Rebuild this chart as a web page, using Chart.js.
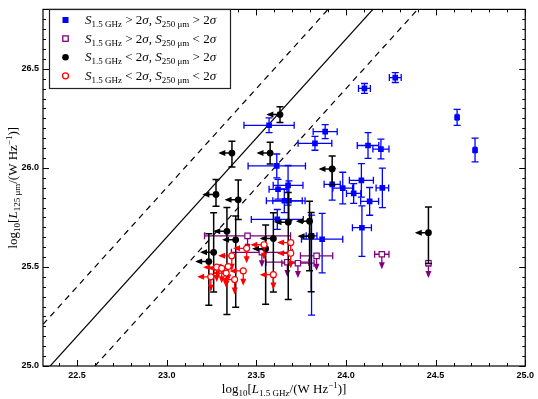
<!DOCTYPE html>
<html>
<head>
<meta charset="utf-8">
<script src="https://cdn.jsdelivr.net/npm/chart.js@4.4.1/dist/chart.umd.min.js"></script>
<style>
  html, body { margin: 0; padding: 0; background: #fff; }
  #wrap { width: 538px; height: 399px; }
</style>
</head>
<body>
<div id="wrap"><canvas id="c" width="538" height="399"></canvas></div>
<script>
// axis ranges and labelled ticks
const xRange = [22.31, 25.0];
const yRange = [25.0, 26.8];
const xTicks = [22.5, 23.0, 23.5, 24.0, 24.5, 25.0];
const yTicks = [25.0, 25.5, 26.0, 26.5];

// relation y = x + c : solid, upper dashed, lower dashed
const lineOffsets = [2.65, 2.90, 2.40];

// S1.4 > 2s, S250 > 2s  (blue squares)
const blueX = [24.275, 24.103, 24.62, 24.72, 23.884, 23.827, 24.123, 24.195, 23.571, 23.614, 23.923, 23.982,
               24.086, 24.043, 24.203, 24.132, 23.677, 23.621, 23.656, 23.682, 23.617, 23.867, 24.089, 23.808];
const blueY = [26.456, 26.401, 26.255, 26.09, 26.183, 26.124, 26.113, 26.095, 26.215, 26.01, 25.917, 25.898,
               25.937, 25.871, 25.899, 25.831, 25.912, 25.892, 25.834, 25.834, 25.74, 25.64, 25.698, 25.657];
const blueXerr = [0.033, 0.033, 0.006, 0.006, 0.067, 0.094, 0.06, 0.045, 0.14, 0.16, 0.045, 0.055,
                  0.067, 0.04, 0.035, 0.05, 0.083, 0.05, 0.1, 0.09, 0.145, 0.115, 0.053, 0.03];
const blueYerrHi = [0.025, 0.025, 0.04, 0.06, 0.035, 0.035, 0.065, 0.05, 0.037, 0.06, 0.08, 0.08,
                    0.085, 0.05, 0.1, 0.07, 0.1, 0.05, 0.06, 0.1, 0.05, 0.13, 0.11, 0.105];
const blueYerrLo = [0.025, 0.025, 0.04, 0.06, 0.035, 0.035, 0.065, 0.05, 0.037, 0.06, 0.08, 0.08,
                    0.085, 0.05, 0.1, 0.07, 0.1, 0.05, 0.06, 0.1, 0.05, 0.17, 0.145, 0.4];

// S1.4 > 2s, S250 < 2s  (purple open squares, upper limits in y)
const purpleX = [23.451, 23.531, 23.673, 23.732, 23.836, 24.2, 24.46];
const purpleY = [25.657, 25.574, 25.524, 25.519, 25.556, 25.564, 25.519];
const purpleXerr = [0.24, 0.17, 0.12, 0.09, 0.09, 0.04, 0.01];

// S1.4 < 2s, S250 > 2s  (black dots, upper limits in x)
const blackX = [23.632, 23.364, 23.577, 23.275, 23.399, 23.923, 24.46, 23.678, 23.797, 23.806, 23.595, 23.336,
                23.262, 23.235, 23.385, 23.552];
const blackY = [26.269, 26.075, 26.075, 25.866, 25.839, 25.995, 25.673, 25.726, 25.731, 25.655, 25.643, 25.68,
                25.574, 25.527, 25.637, 25.592];
const blackYerrHi = [0.04, 0.06, 0.055, 0.075, 0.1, 0.065, 0.13, 0.15, 0.1, 0.12, 0.13, 0.12, 0.2, 0.14, 0.12, 0.12];
const blackYerrLo = [0.04, 0.07, 0.055, 0.06, 0.1, 0.08, 0.155, 0.39, 0.25, 0.28, 0.27, 0.42, 0.2, 0.22, 0.34, 0.28];

// S1.4 < 2s, S250 < 2s  (red open circles, limits in both)
const redX = [23.543, 23.446, 23.363, 23.692, 23.692, 23.279, 23.343, 23.332, 23.246, 23.379, 23.427, 23.595, 23.307];
const redY = [25.612, 25.594, 25.556, 25.623, 25.569, 25.499, 25.502, 25.469, 25.45, 25.436, 25.48, 25.461, 25.493];

const ARROW_DX = 0.065;
const ARROW_DY = 0.065;
const SERIF = "'Liberation Serif', 'DejaVu Serif', serif";

const pts = (xs, ys) => xs.map((v, i) => ({ x: v, y: ys[i] }));

function fontFor(s, size) {
  const sz = (s.sub || s.sup) ? Math.round(size * 0.7) : size;
  return (s.it ? 'italic ' : '') + sz + 'px ' + SERIF;
}
function drawRich(ctx, segs, x, y, size, align) {
  let w = 0;
  segs.forEach(s => { ctx.font = fontFor(s, size); w += ctx.measureText(s.t).width; });
  let cx = align === 'center' ? x - w / 2 : x;
  ctx.textBaseline = 'alphabetic';
  ctx.textAlign = 'left';
  segs.forEach(s => {
    ctx.font = fontFor(s, size);
    const dy = s.sub ? size * 0.25 : s.sup ? -size * 0.42 : 0;
    ctx.fillText(s.t, cx, y + dy);
    cx += ctx.measureText(s.t).width;
  });
}

function arrow(ctx, x0, y0, x1, y1) {
  ctx.beginPath(); ctx.moveTo(x0, y0); ctx.lineTo(x1, y1); ctx.stroke();
  const a = Math.atan2(y1 - y0, x1 - x0), L = 5, H = 3;
  ctx.beginPath();
  ctx.moveTo(x1 + Math.cos(a) * 2, y1 + Math.sin(a) * 2);
  ctx.lineTo(x1 - Math.cos(a) * L - Math.sin(a) * H, y1 - Math.sin(a) * L + Math.cos(a) * H);
  ctx.lineTo(x1 - Math.cos(a) * L + Math.sin(a) * H, y1 - Math.sin(a) * L - Math.cos(a) * H);
  ctx.closePath(); ctx.fill();
}

// error bars and limit arrows, drawn just under each dataset's markers
const errorBars = {
  id: 'errorBars',
  beforeDatasetDraw(chart, args) {
    const ds = chart.data.datasets[args.index];
    const b = ds.bars;
    if (!b) return;
    const { ctx, chartArea: a, scales: { x, y } } = chart;
    ctx.save();
    ctx.beginPath(); ctx.rect(a.left, a.top, a.right - a.left, a.bottom - a.top); ctx.clip();
    ctx.strokeStyle = b.color; ctx.fillStyle = b.color; ctx.lineWidth = b.lw || 1.3;
    const cap = 3.5;
    ds.data.forEach((p, i) => {
      const px = x.getPixelForValue(p.x), py = y.getPixelForValue(p.y);
      if (b.xerr) {
        const l = x.getPixelForValue(p.x - b.xerr[i]), r = x.getPixelForValue(p.x + b.xerr[i]);
        ctx.beginPath();
        ctx.moveTo(l, py); ctx.lineTo(r, py);
        ctx.moveTo(l, py - cap); ctx.lineTo(l, py + cap);
        ctx.moveTo(r, py - cap); ctx.lineTo(r, py + cap);
        ctx.stroke();
      }
      if (b.yhi) {
        const t = y.getPixelForValue(p.y + b.yhi[i]), d = y.getPixelForValue(p.y - b.ylo[i]);
        ctx.beginPath();
        ctx.moveTo(px, t); ctx.lineTo(px, d);
        ctx.moveTo(px - cap, t); ctx.lineTo(px + cap, t);
        ctx.moveTo(px - cap, d); ctx.lineTo(px + cap, d);
        ctx.stroke();
      }
      if (b.left) arrow(ctx, px, py, x.getPixelForValue(p.x - ARROW_DX), py);
      if (b.down) arrow(ctx, px, py, px, y.getPixelForValue(p.y - ARROW_DY));
    });
    ctx.restore();
  }
};

// frame with inward ticks on all four sides, axis titles and legend
const frame = {
  id: 'frame',
  afterDraw(chart) {
    const { ctx, chartArea: a, scales: { x, y } } = chart;
    ctx.save();
    ctx.strokeStyle = '#000'; ctx.lineWidth = 1.2;
    ctx.strokeRect(a.left, a.top, a.right - a.left, a.bottom - a.top);
    ctx.lineWidth = 1;
    ctx.beginPath();
    for (let k = Math.ceil(xRange[0] * 10); k <= Math.floor(xRange[1] * 10); k++) {
      const px = Math.round(x.getPixelForValue(k / 10)) + 0.5, len = k % 5 === 0 ? 6 : 3;
      ctx.moveTo(px, a.bottom); ctx.lineTo(px, a.bottom - len);
      ctx.moveTo(px, a.top); ctx.lineTo(px, a.top + len);
    }
    for (let k = Math.ceil(yRange[0] * 20); k <= Math.floor(yRange[1] * 20); k++) {
      const py = Math.round(y.getPixelForValue(k / 20)) + 0.5, len = k % 10 === 0 ? 6 : 3;
      ctx.moveTo(a.left, py); ctx.lineTo(a.left + len, py);
      ctx.moveTo(a.right, py); ctx.lineTo(a.right - len, py);
    }
    ctx.stroke();

    // axis titles
    ctx.fillStyle = '#000';
    drawRich(ctx, [{ t: 'log' }, { t: '10', sub: 1 }, { t: '[' }, { t: 'L', it: 1 }, { t: '1.5 GHz', sub: 1 },
      { t: '/(W Hz' }, { t: '−1', sup: 1 }, { t: ')]' }], (a.left + a.right) / 2, 393, 13, 'center');
    ctx.save();
    ctx.translate(17, (a.top + a.bottom) / 2);
    ctx.rotate(-Math.PI / 2);
    drawRich(ctx, [{ t: 'log' }, { t: '10', sub: 1 }, { t: '[' }, { t: 'L', it: 1 }, { t: '125 μm', sub: 1 },
      { t: '/(W Hz' }, { t: '−1', sup: 1 }, { t: ')]' }], 0, 0, 13, 'center');
    ctx.restore();

    // legend
    const bx = 49.5, by = 9.5, bw = 181, bh = 79;
    ctx.fillStyle = '#fff'; ctx.fillRect(bx, by, bw, bh);
    ctx.strokeStyle = '#222'; ctx.lineWidth = 1.2; ctx.strokeRect(bx, by, bw, bh);
    const rows = [
      { kind: 'blue', gt1: ' > 2', gt2: ' > 2' },
      { kind: 'purple', gt1: ' > 2', gt2: ' < 2' },
      { kind: 'black', gt1: ' < 2', gt2: ' > 2' },
      { kind: 'red', gt1: ' < 2', gt2: ' < 2' }
    ];
    rows.forEach((r, i) => {
      const cy = 20 + i * 18.6, mx = 65.5;
      ctx.lineWidth = 1.3;
      if (r.kind === 'blue') { ctx.fillStyle = '#0000ff'; ctx.fillRect(mx - 3, cy - 3, 6, 6); }
      if (r.kind === 'purple') { ctx.strokeStyle = '#800080'; ctx.fillStyle = '#fff'; ctx.fillRect(mx - 2.7, cy - 2.7, 5.4, 5.4); ctx.strokeRect(mx - 2.7, cy - 2.7, 5.4, 5.4); }
      if (r.kind === 'black') { ctx.fillStyle = '#000'; ctx.beginPath(); ctx.arc(mx, cy, 3.3, 0, Math.PI * 2); ctx.fill(); }
      if (r.kind === 'red') { ctx.strokeStyle = '#ff0000'; ctx.fillStyle = '#fff'; ctx.beginPath(); ctx.arc(mx, cy, 3, 0, Math.PI * 2); ctx.fill(); ctx.stroke(); }
      ctx.fillStyle = '#000';
      drawRich(ctx, [{ t: 'S', it: 1 }, { t: '1.5 GHz', sub: 1 }, { t: r.gt1 }, { t: 'σ', it: 1 }, { t: ', ' },
        { t: 'S', it: 1 }, { t: '250 μm', sub: 1 }, { t: r.gt2 }, { t: 'σ', it: 1 }], 85, cy + 4, 13, 'left');
    });
    ctx.restore();
  }
};

const refLine = (c, dash) => ({
  type: 'line',
  data: [{ x: xRange[0], y: xRange[0] + c }, { x: xRange[1], y: xRange[1] + c }],
  borderColor: '#000', borderWidth: 1.2, borderDash: dash, pointRadius: 0, showLine: true, fill: false, order: 10
});

new Chart(document.getElementById('c'), {
  type: 'scatter',
  data: {
    datasets: [
      refLine(lineOffsets[0], []),
      refLine(lineOffsets[1], [6, 5]),
      refLine(lineOffsets[2], [6, 5]),
      {
        data: pts(blueX, blueY), order: 4,
        pointStyle: 'rect', pointRadius: 4, backgroundColor: '#0000ff', borderColor: '#0000ff', borderWidth: 0,
        bars: { color: '#0000ff', xerr: blueXerr, yhi: blueYerrHi, ylo: blueYerrLo }
      },
      {
        data: pts(purpleX, purpleY), order: 3,
        pointStyle: 'rect', pointRadius: 3.8, backgroundColor: '#fff', borderColor: '#800080', borderWidth: 1.2,
        bars: { color: '#800080', xerr: purpleXerr, down: true }
      },
      {
        data: pts(blackX, blackY), order: 2,
        pointStyle: 'circle', pointRadius: 3.4, backgroundColor: '#000', borderColor: '#000', borderWidth: 0,
        bars: { color: '#000', yhi: blackYerrHi, ylo: blackYerrLo, left: true, lw: 1.5 }
      },
      {
        data: pts(redX, redY), order: 1,
        pointStyle: 'circle', pointRadius: 3, backgroundColor: '#fff', borderColor: '#ff0000', borderWidth: 1.2,
        bars: { color: '#ff0000', left: true, down: true }
      }
    ]
  },
  options: {
    responsive: false,
    animation: false,
    devicePixelRatio: 1,
    events: [],
    layout: { padding: { left: 0, right: 11, top: 4, bottom: 0 } },
    plugins: { legend: { display: false }, tooltip: { enabled: false } },
    scales: {
      x: {
        type: 'linear', min: xRange[0], max: xRange[1],
        grid: { display: false, drawTicks: false }, border: { display: false },
        afterBuildTicks: s => { s.ticks = xTicks.map(v => ({ value: v })); },
        afterFit: s => { s.height = 33; },
        ticks: { padding: 4, color: '#000', font: { family: "'Liberation Sans', sans-serif", size: 9, weight: 'bold' },
                 callback: v => v.toFixed(1), maxRotation: 0 }
      },
      y: {
        type: 'linear', min: yRange[0], max: yRange[1],
        grid: { display: false, drawTicks: false }, border: { display: false },
        afterBuildTicks: s => { s.ticks = yTicks.map(v => ({ value: v })); },
        afterFit: s => { s.width = 43; },
        ticks: { padding: 4, color: '#000', font: { family: "'Liberation Sans', sans-serif", size: 9, weight: 'bold' },
                 callback: v => v.toFixed(1) }
      }
    }
  },
  plugins: [errorBars, frame]
});
</script>
</body>
</html>
